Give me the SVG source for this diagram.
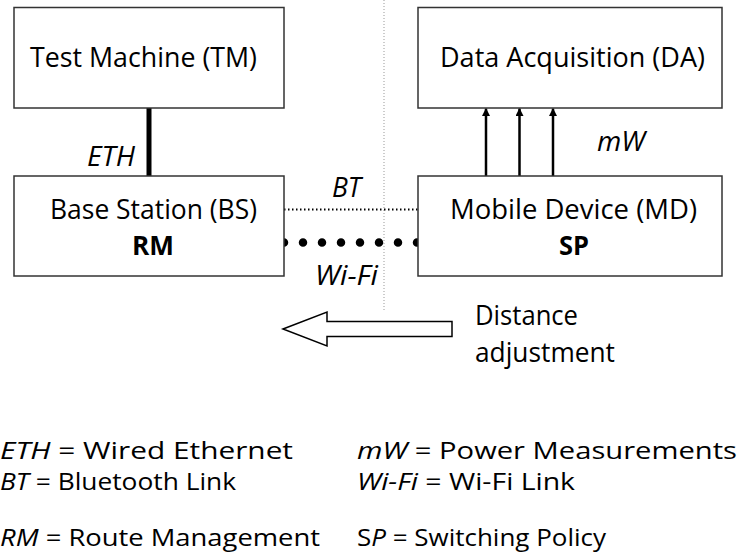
<svg xmlns="http://www.w3.org/2000/svg" width="739" height="556" viewBox="0 0 739 556">
  <defs>
    <marker id="head" viewBox="0 0 8 8" refX="7.5" refY="4" markerWidth="8" markerHeight="8" markerUnits="userSpaceOnUse" orient="auto">
      <path d="M0,0 L8,4 L0,8 Z" fill="#000"/>
    </marker>
    <style>
      text { font-family: "Open Sans", "Noto Sans", sans-serif; fill: #000; }
      .lbl { font-size: 27px; }
      .bold { font-size: 27px; font-weight: bold; }
      .it { font-style: italic; }
      .leg { font-size: 24.5px; }
      .box { fill: #fff; stroke: #333; stroke-width: 1.5; }
    </style>
  </defs>

  <rect width="739" height="556" fill="#fff"/>

  <!-- separator between the two sides -->
  <line x1="384" y1="0" x2="384" y2="310" stroke="#999" stroke-width="1" stroke-dasharray="1 2"/>

  <g id="connectors">
    <!-- wired Ethernet -->
    <line x1="149" y1="108" x2="149" y2="176" stroke="#000" stroke-width="5"/>
    <!-- Bluetooth link -->
    <line x1="284" y1="209.5" x2="418" y2="209.5" stroke="#000" stroke-width="2" stroke-dasharray="1.5 2.5"/>
    <!-- Wi-Fi link -->
    <line x1="284" y1="242.5" x2="418" y2="242.5" stroke="#000" stroke-width="8.5" stroke-linecap="round" stroke-dasharray="0 19"/>
    <!-- power measurements -->
    <line x1="486" y1="176" x2="486" y2="108.5" stroke="#000" stroke-width="2.5" marker-end="url(#head)"/>
    <line x1="519.5" y1="176" x2="519.5" y2="108.5" stroke="#000" stroke-width="2.5" marker-end="url(#head)"/>
    <line x1="553" y1="176" x2="553" y2="108.5" stroke="#000" stroke-width="2.5" marker-end="url(#head)"/>
    <text class="lbl it" x="87" y="166" textLength="48" lengthAdjust="spacingAndGlyphs">ETH</text>
    <text class="lbl it" x="332" y="197" textLength="29" lengthAdjust="spacingAndGlyphs">BT</text>
    <text class="lbl it" x="315" y="285" textLength="63" lengthAdjust="spacingAndGlyphs">Wi-Fi</text>
    <text class="lbl it" x="597" y="151" textLength="48" lengthAdjust="spacingAndGlyphs">mW</text>
  </g>

  <g id="tm">
    <rect class="box" x="14" y="7.5" width="270" height="100.5"/>
    <text class="lbl" x="30" y="67" textLength="227" lengthAdjust="spacingAndGlyphs">Test Machine (TM)</text>
  </g>

  <g id="bs">
    <rect class="box" x="14" y="176" width="270" height="100"/>
    <text class="lbl" x="50" y="219" textLength="207" lengthAdjust="spacingAndGlyphs">Base Station (BS)</text>
    <text class="bold" x="132" y="255" textLength="42" lengthAdjust="spacingAndGlyphs">RM</text>
  </g>

  <g id="da">
    <rect class="box" x="418" y="7.5" width="304" height="100.5"/>
    <text class="lbl" x="440" y="67" textLength="265" lengthAdjust="spacingAndGlyphs">Data Acquisition (DA)</text>
  </g>

  <g id="md">
    <rect class="box" x="418" y="176" width="304" height="100"/>
    <text class="lbl" x="450" y="219" textLength="247" lengthAdjust="spacingAndGlyphs">Mobile Device (MD)</text>
    <text class="bold" x="559" y="255" textLength="30" lengthAdjust="spacingAndGlyphs">SP</text>
  </g>

  <g id="distance">
    <path d="M283,329 L327,312 L327,321.5 L452,321.5 L452,336.5 L327,336.5 L327,346 Z" fill="#fff" stroke="#000" stroke-width="1.5" stroke-linejoin="miter"/>
    <text class="lbl" x="475" y="325" textLength="103" lengthAdjust="spacingAndGlyphs">Distance</text>
    <text class="lbl" x="475" y="362" textLength="140" lengthAdjust="spacingAndGlyphs">adjustment</text>
  </g>

  <g id="legend">
    <text class="leg" x="0" y="459" textLength="293" lengthAdjust="spacingAndGlyphs"><tspan class="it">ETH</tspan> = Wired Ethernet</text>
    <text class="leg" x="0" y="490" textLength="236" lengthAdjust="spacingAndGlyphs"><tspan class="it">BT</tspan> = Bluetooth Link</text>
    <text class="leg" x="0" y="546" textLength="320" lengthAdjust="spacingAndGlyphs"><tspan class="it">RM</tspan> = Route Management</text>
    <text class="leg" x="357" y="459" textLength="380" lengthAdjust="spacingAndGlyphs"><tspan class="it">mW</tspan> = Power Measurements</text>
    <text class="leg" x="357" y="490" textLength="218" lengthAdjust="spacingAndGlyphs"><tspan class="it">Wi-Fi</tspan> = Wi-Fi Link</text>
    <text class="leg" x="357" y="546" textLength="249" lengthAdjust="spacingAndGlyphs">S<tspan class="it">P</tspan> = Switching Policy</text>
  </g>
</svg>
